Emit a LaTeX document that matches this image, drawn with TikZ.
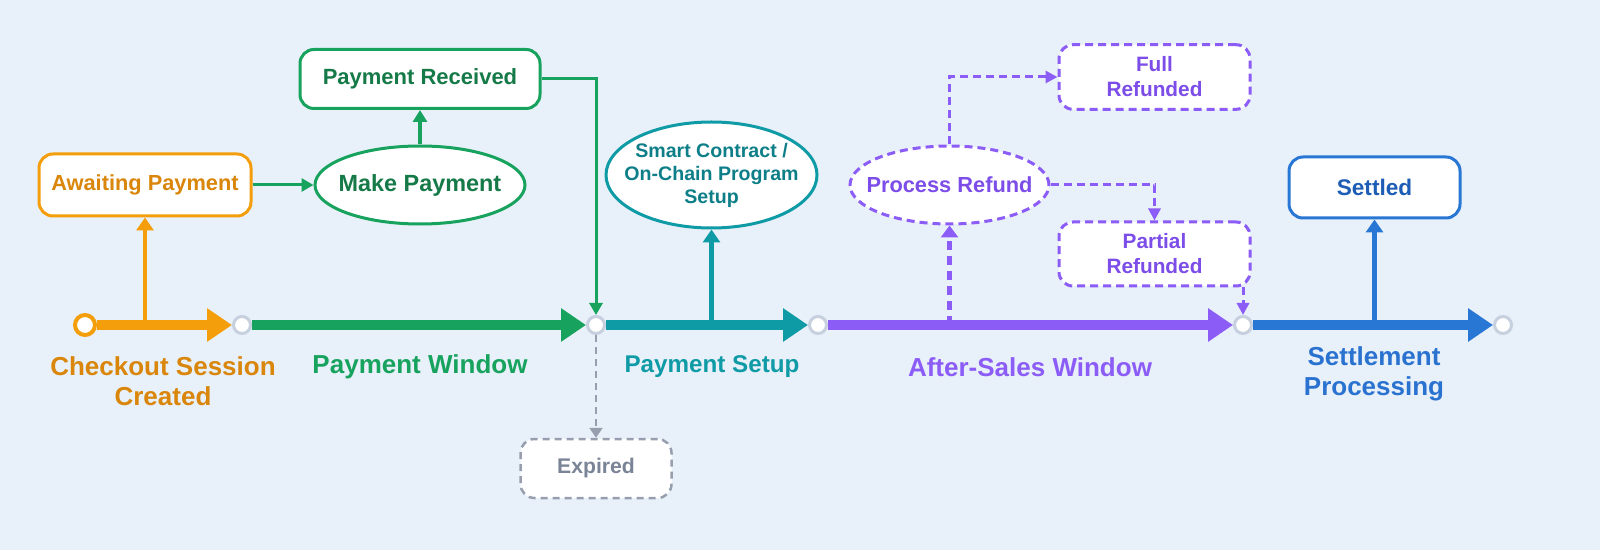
\documentclass[tikz,border=0pt]{standalone}
\usepackage{fontspec}
\setmainfont{Liberation Sans}
\usetikzlibrary{arrows.meta,shapes.geometric}
\definecolor{bg}{HTML}{E8F0FA}
\definecolor{corange}{HTML}{F59E0B}
\definecolor{corangetxt}{HTML}{D9860A}
\definecolor{cgreen}{HTML}{17A35E}
\definecolor{cgreentxt}{HTML}{157A48}
\definecolor{cteal}{HTML}{0E9BA6}
\definecolor{ctealtxt}{HTML}{0E7F88}
\definecolor{cpurple}{HTML}{8B5CF6}
\definecolor{cpurpletxt}{HTML}{7C4DE8}
\definecolor{cblue}{HTML}{2877D4}
\definecolor{cbluetxt}{HTML}{1E5DB5}
\definecolor{cbluelab}{HTML}{2A72D0}
\definecolor{cdot}{HTML}{C6D0DE}
\definecolor{cgrayline}{HTML}{979FAE}
\definecolor{cgraytxt}{HTML}{7A8497}
\begin{document}
\begin{tikzpicture}[x=0.5pt,y=-0.5pt,
  dotnode/.style={circle, draw=cdot, fill=white, line width=1.5pt, minimum size=8.5pt, inner sep=0pt},
  startdot/.style={circle, draw=corange, fill=white, line width=2pt, minimum size=10pt, inner sep=0pt},
  tline/.style={line width=4.75pt, -{Triangle[length=12.5pt,width=16pt]}},
  vconn/.style={line width=2.25pt, -{Triangle[length=6.5pt,width=8.5pt]}},
  thinarrow/.style={line width=1.5pt, -{Triangle[length=6pt,width=6.5pt]}},
  medarrow/.style={line width=1.75pt, -{Triangle[length=6pt,width=7pt]}},
  boxnode/.style={draw, rounded corners=7pt, fill=white, line width=1.5pt, inner sep=0pt, align=center},
  ellnode/.style={ellipse, draw, fill=white, line width=1.5pt, inner sep=0pt},
  elltext/.style={inner sep=0pt, align=center},
  dashbox/.style={dash pattern=on 4pt off 2.5pt},
  labnode/.style={inner sep=0pt, align=center, font=\bfseries\fontsize{13}{15}\selectfont}
]
\fill[bg] (0,0) rectangle (1600,550);
\useasboundingbox (0,0) rectangle (1600,550);

% timeline dots
\node[startdot] (c0) at (85,325) {};
\node[dotnode] (c1) at (242,325) {};
\node[dotnode] (c2) at (596,325) {};
\node[dotnode] (c3) at (818,325) {};
\node[dotnode] (c4) at (1243,325) {};
\node[dotnode] (c5) at (1503,325) {};

% timeline segments
\draw[tline, corange] (c0) -- (c1);
\draw[tline, cgreen] (c1) -- (c2);
\draw[tline, cteal] (c2) -- (c3);
\draw[tline, cpurple] (c3) -- (c4);
\draw[tline, cblue] (c4) -- (c5);

% nodes
\node[boxnode, draw=corange, text=corangetxt, minimum width=106pt, minimum height=31pt,
  font=\bfseries\fontsize{10.9}{13}\selectfont] (await) at (145,185) {Awaiting Payment};
\node[ellnode, draw=cgreen, minimum width=105pt, minimum height=39pt] (make) at (420,185) {};
\node[elltext, text=cgreentxt, font=\bfseries\fontsize{11.7}{13}\selectfont] (maket) at (make) {Make Payment};
\node[boxnode, draw=cgreen, text=cgreentxt, minimum width=120pt, minimum height=29.5pt,
  font=\bfseries\fontsize{11}{13}\selectfont] (recv) at (420,79) {Payment Received};
\node[ellnode, draw=cteal, minimum width=105.5pt, minimum height=53pt] (smart) at (711.5,175) {};
\node[elltext, text=ctealtxt, font=\bfseries\fontsize{9.8}{11.5}\selectfont] (smartt) at (smart) {Smart Contract /\\On-Chain Program\\Setup};
\node[ellnode, dashbox, draw=cpurple, minimum width=99.5pt, minimum height=39pt] (pr) at (949.5,185) {};
\node[elltext, text=cpurpletxt, font=\bfseries\fontsize{10.9}{13}\selectfont] (prt) at (pr) {Process Refund};
\node[boxnode, dashbox, draw=cpurple, text=cpurpletxt, minimum width=95.5pt, minimum height=32.3pt,
  font=\bfseries\fontsize{10.4}{12.5}\selectfont] (full) at (1154.5,77) {Full\\Refunded};
\node[boxnode, dashbox, draw=cpurple, text=cpurpletxt, minimum width=95.5pt, minimum height=32pt,
  font=\bfseries\fontsize{10.4}{12.5}\selectfont] (partial) at (1154.5,254) {Partial\\Refunded};
\node[boxnode, draw=cblue, text=cbluetxt, minimum width=85.5pt, minimum height=30.5pt,
  font=\bfseries\fontsize{11.3}{13}\selectfont] (settled) at (1374.5,187.5) {Settled};
\node[boxnode, line width=1.25pt, dash pattern=on 3.5pt off 2.5pt, draw=cgrayline, text=cgraytxt,
  minimum width=75.5pt, minimum height=29.5pt,
  font=\bfseries\fontsize{10.6}{13}\selectfont] (expired) at (596,468.5) {Expired};

% vertical branch connectors
\coordinate (b1) at (145,325);
\coordinate (b2) at (711.5,325);
\coordinate (b3) at (949.5,325);
\coordinate (b4) at (1374.5,325);
\draw[vconn, corange] (b1) -- (await.south);
\draw[vconn, cteal] (b2) -- (smart.south);
\draw[cpurple, line width=2.5pt, dash pattern=on 4.5pt off 3pt, -{Triangle[length=6pt,width=8.5pt]}] (b3) -- (pr.south);
\draw[vconn, cblue] (b4) -- (settled.south);

% other connectors
\draw[thinarrow, cgreen] (await.east) -- (make.west);
\draw[medarrow, cgreen] (make.north) -- (recv.south);
\draw[thinarrow, cgreen] (recv.east) -| (c2.north);
\draw[cgrayline, line width=1.25pt, dash pattern=on 3.5pt off 2.5pt, -{Triangle[length=5pt,width=6.5pt]}] (c2.south) -- (expired.north);
\draw[cpurple, line width=1.5pt, dash pattern=on 4pt off 2.5pt, -{Triangle[length=6pt,width=6pt]}] (pr.north) |- (full.west);
\draw[cpurple, line width=1.5pt, dash pattern=on 4pt off 2.5pt, -{Triangle[length=6pt,width=6pt]}] (pr.east) -| (partial.north);
\draw[cpurple, line width=1.5pt, dash pattern=on 4pt off 2.5pt, -{Triangle[length=6pt,width=6pt]}] (c4.north |- partial.south) -- (c4.north);

% phase labels
\node[labnode, text=corangetxt] (l1) at (163,381.5) {Checkout Session\\Created};
\node[labnode, text=cgreen] (l2) at (420,367) {Payment Window};
\node[labnode, text=cteal, font=\bfseries\fontsize{12.1}{15}\selectfont] (l3) at (712,367) {Payment Setup};
\node[labnode, text=cpurple] (l4) at (1030,367) {After-Sales Window};
\node[labnode, text=cbluelab] (l5) at (1374,373.5) {Settlement\\Processing};
\end{tikzpicture}
\end{document}
